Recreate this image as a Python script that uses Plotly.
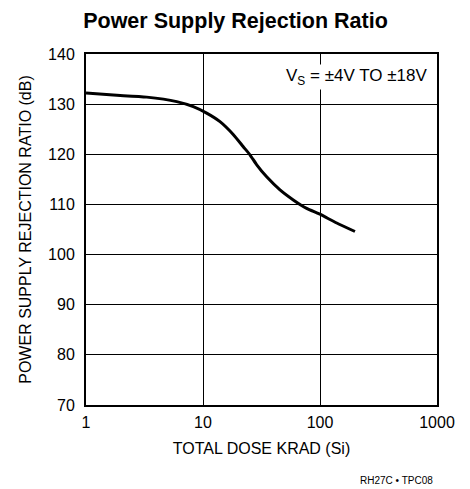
import plotly.graph_objects as go

dose_krad = [1, 1.71, 3.3, 5.96, 8.26, 10.75, 13.97, 18.2, 22.1, 25.2, 28.8, 35.0, 45.5, 59.1, 76.9, 98.6, 139, 199]
psrr_db = [132.2, 131.8, 131.4, 130.5, 129.5, 128.2, 126.5, 123.9, 121.5, 119.9, 117.9, 115.5, 112.9, 110.9, 109.2, 108.1, 106.3, 104.6]

x_ticks = [1, 10, 100, 1000]
y_ticks = [70, 80, 90, 100, 110, 120, 130, 140]

font_family = "Liberation Sans, Arial, sans-serif"

fig = go.Figure()
fig.add_trace(go.Scatter(
    x=dose_krad, y=psrr_db, mode="lines",
    line=dict(color="black", width=3, shape="spline", smoothing=0.6),
    showlegend=False,
))

fig.update_layout(
    width=462, height=481,
    margin=dict(l=78, r=33, t=46, b=84, autoexpand=False),
    paper_bgcolor="white", plot_bgcolor="white",
    font=dict(family=font_family, size=16, color="black"),
    title=dict(text="<b>Power Supply Rejection Ratio</b>", x=0.4924, xref="container",
               xanchor="center", y=0.975, yanchor="middle",
               font=dict(family=font_family, size=21.5, color="black")),
    xaxis=dict(type="log", range=[0, 3], tickvals=x_ticks, ticktext=[str(v) for v in x_ticks],
               showgrid=True, gridcolor="black", gridwidth=1, zeroline=False,
               showline=True, linecolor="black", linewidth=2, mirror=True,
               ticks="", automargin=False, ticklabelstandoff=2,
               title=dict(text="TOTAL DOSE KRAD (Si)", standoff=13, font=dict(size=16))),
    yaxis=dict(range=[70, 140], tickvals=y_ticks,
               showgrid=True, gridcolor="black", gridwidth=1, zeroline=False,
               showline=True, linecolor="black", linewidth=2, mirror=True,
               ticks="", automargin=False, ticklabelstandoff=6,
               title=dict(text="POWER SUPPLY REJECTION RATIO (dB)", standoff=12,
                          font=dict(size=16))),
)

fig.add_annotation(
    x=0.976, y=0.934, xref="paper", yref="paper", xanchor="right", yanchor="middle",
    text="V<sub>S</sub> = ±4V TO ±18V", showarrow=False,
    bgcolor="white", font=dict(size=17), borderpad=1,
)
fig.add_annotation(
    x=0.994, y=-0.2165, xref="paper", yref="paper", xanchor="right", yanchor="middle",
    showarrow=False, text="RH27C • TPC08",
    font=dict(family=font_family, size=10),
)

fig.write_html("out.html")
